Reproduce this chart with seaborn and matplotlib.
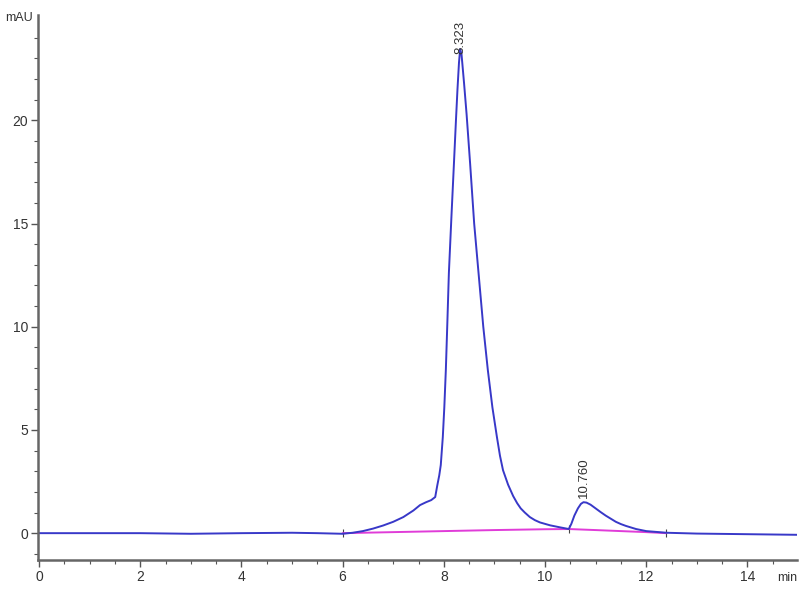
import matplotlib
matplotlib.use("Agg")
import matplotlib.pyplot as plt
import seaborn as sns
import pandas as pd
from matplotlib.ticker import MultipleLocator, FixedLocator

# Chromatogram signal (time in min, absorbance in mAU)
time_min = [0.0, 1.0, 2.0, 3.0, 4.0, 5.0, 5.5, 6.0, 6.2, 6.4, 6.6, 6.8, 7.0, 7.2, 7.4, 7.53,
            7.65, 7.75, 7.83, 7.87, 7.91, 7.94, 7.98, 8.01, 8.04, 8.07, 8.10, 8.15, 8.20, 8.24,
            8.27, 8.30, 8.323, 8.35, 8.40, 8.45, 8.52, 8.60, 8.69, 8.78, 8.87, 8.96, 9.05,
            9.11, 9.17, 9.27, 9.37, 9.45, 9.52, 9.60, 9.70, 9.80, 9.90, 10.10, 10.30, 10.47,
            10.52, 10.58, 10.65, 10.71, 10.76, 10.82, 10.90, 11.0, 11.1, 11.2, 11.3, 11.4,
            11.5, 11.6, 11.8, 12.0, 12.4, 13.0, 14.0, 15.0]
signal_mau = [0.0, 0.0, 0.0, -0.03, 0.0, 0.02, 0.0, -0.03, 0.02, 0.1, 0.22, 0.37, 0.55, 0.78, 1.1, 1.36,
              1.5, 1.6, 1.75, 2.3, 2.8, 3.3, 4.65, 6.1, 7.9, 10.2, 12.6, 15.3, 17.9, 20.0,
              21.5, 22.8, 23.45, 23.2, 21.8, 20.3, 17.9, 15.0, 12.5, 10.0, 7.9, 6.1, 4.65,
              3.75, 3.05, 2.35, 1.8, 1.45, 1.2, 1.0, 0.78, 0.63, 0.52, 0.38, 0.28, 0.2,
              0.45, 0.85, 1.2, 1.42, 1.5, 1.48, 1.38, 1.2, 1.02, 0.85, 0.7, 0.55,
              0.44, 0.35, 0.2, 0.1, 0.02, -0.02, -0.05, -0.08]

# Integration baseline
base_time = [6.0, 7.0, 8.0, 9.0, 10.0, 10.47, 11.0, 11.5, 12.0, 12.4]
base_mau = [0.0, 0.05, 0.1, 0.15, 0.19, 0.2, 0.15, 0.1, 0.05, 0.0]

# Peak annotations
peak_times = [8.323, 10.760]
peak_labels = ["8.323", "10.760"]
peak_label_y = [23.2, 1.7]

# Integration event marks
event_times = [6.0, 10.47, 12.4]
event_mau = [0.0, 0.2, 0.0]

# Axis ticks
y_major_ticks = [0, 5, 10, 15, 20]
y_minor_ticks = [-1, 1, 2, 3, 4, 6, 7, 8, 9, 11, 12, 13, 14, 16, 17, 18, 19, 21, 22, 23, 24]

sns.set_style("ticks")
plt.rcParams['font.family'] = ['Liberation Sans', 'DejaVu Sans']

fig = plt.figure(figsize=(8, 6), dpi=100)
ax = fig.add_axes([38/800, 40/600, (797-38)/800, (560-15)/600])

df = pd.DataFrame({"t": time_min, "y": signal_mau})
bdf = pd.DataFrame({"t": base_time, "y": base_mau})
edf = pd.DataFrame({"t": event_times, "y": event_mau})

sns.lineplot(data=bdf, x="t", y="y", ax=ax, color="#e03cd8", lw=1.4, sort=False)
sns.lineplot(data=df, x="t", y="y", ax=ax, color="#3838c8", lw=1.4, sort=False)
sns.scatterplot(data=edf, x="t", y="y", ax=ax, marker="|", color="#444444", s=40, linewidth=0.8)

for t, lab, yy in zip(peak_times, peak_labels, peak_label_y):
    ax.text(t, yy, lab, rotation=90, ha="center", va="bottom", fontsize=9.5,
            color="#333333")

ax.set_xlim(-0.02, 14.98)
ax.set_ylim(-1.3, 25.1)
ax.xaxis.set_major_locator(MultipleLocator(2))
ax.xaxis.set_minor_locator(MultipleLocator(0.5))
ax.yaxis.set_major_locator(FixedLocator(y_major_ticks))
ax.yaxis.set_minor_locator(FixedLocator(y_minor_ticks))
ax.set_xlabel("")
ax.set_ylabel("")

sns.despine(ax=ax)
for s in ["left", "bottom"]:
    ax.spines[s].set_color("#666666")
    ax.spines[s].set_linewidth(1.8)
ax.tick_params(which="major", length=5, width=1, color="#555555", labelsize=10,
               labelcolor="#333333", pad=2)
ax.tick_params(which="minor", length=3, width=0.8, color="#555555")

fig.text(5/800, 1 - 18/600, "mAU", fontsize=9, color="#333333", ha="left", va="center")
fig.text(777/800, 1 - 578/600, "min", fontsize=9, color="#333333", ha="left", va="center")

fig.savefig("out.png", dpi=100)
